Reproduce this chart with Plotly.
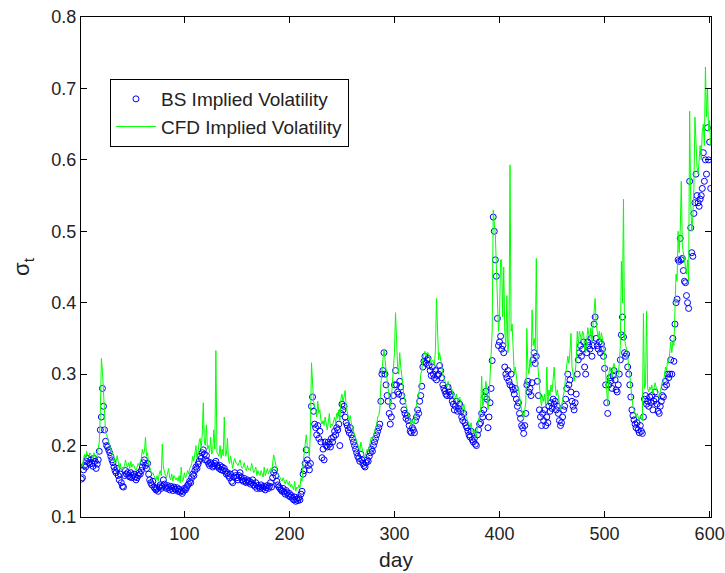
import plotly.graph_objects as go

days = list(range(2, 602))

bs_vol = [
    0.153, 0.155, 0.166, 0.172, 0.170, 0.178, 0.182, 0.176, 0.174, 0.180,
    0.175, 0.171, 0.182, 0.178, 0.168, 0.174, 0.180, 0.192, 0.222, 0.240,
    0.280, 0.255, 0.222, 0.206, 0.200, 0.198, 0.194, 0.190, 0.185, 0.180,
    0.176, 0.170, 0.165, 0.162, 0.168, 0.158, 0.152, 0.160, 0.148, 0.143,
    0.142, 0.158, 0.165, 0.160, 0.162, 0.158, 0.156, 0.162, 0.155, 0.158,
    0.160, 0.156, 0.152, 0.155, 0.158, 0.162, 0.160, 0.165, 0.170, 0.176,
    0.180, 0.172, 0.168, 0.175, 0.160, 0.152, 0.148, 0.145, 0.150, 0.142,
    0.140, 0.138, 0.140, 0.136, 0.142, 0.145, 0.140, 0.143, 0.152, 0.146,
    0.142, 0.140, 0.144, 0.141, 0.138, 0.143, 0.140, 0.137, 0.142, 0.139,
    0.138, 0.141, 0.136, 0.139, 0.135, 0.137, 0.133, 0.136, 0.140, 0.138,
    0.141, 0.144, 0.146, 0.150, 0.148, 0.155, 0.160, 0.158, 0.165, 0.170,
    0.168, 0.174, 0.178, 0.185, 0.182, 0.190, 0.194, 0.188, 0.180, 0.186,
    0.178, 0.175, 0.172, 0.176, 0.174, 0.170, 0.172, 0.175, 0.178, 0.172,
    0.170, 0.168, 0.172, 0.166, 0.170, 0.165, 0.168, 0.164, 0.160, 0.162,
    0.158, 0.155, 0.160, 0.150, 0.148, 0.156, 0.162, 0.158, 0.155, 0.152,
    0.158, 0.162, 0.156, 0.152, 0.150, 0.154, 0.150, 0.148, 0.152, 0.149,
    0.150, 0.146, 0.148, 0.152, 0.145, 0.143, 0.148, 0.140, 0.144, 0.142,
    0.140, 0.145, 0.142, 0.140, 0.143, 0.138, 0.141, 0.144, 0.140, 0.143,
    0.148, 0.142, 0.155, 0.162, 0.166, 0.158, 0.150, 0.145, 0.142, 0.140,
    0.138, 0.136, 0.140, 0.135, 0.132, 0.137, 0.134, 0.130, 0.133, 0.128,
    0.130, 0.126, 0.124, 0.128, 0.122, 0.125, 0.123, 0.127, 0.124, 0.132,
    0.136, 0.160, 0.165, 0.175, 0.194, 0.180, 0.172, 0.166, 0.175, 0.255,
    0.268, 0.248, 0.230, 0.225, 0.215, 0.228, 0.210, 0.220, 0.205, 0.183,
    0.195, 0.180, 0.205, 0.200, 0.198, 0.205, 0.202, 0.198, 0.210, 0.205,
    0.212, 0.220, 0.215, 0.225, 0.222, 0.230, 0.200, 0.245, 0.258, 0.250,
    0.255, 0.240, 0.232, 0.228, 0.222, 0.218, 0.225, 0.215, 0.210, 0.205,
    0.200, 0.195, 0.190, 0.185, 0.182, 0.178, 0.188, 0.180, 0.175, 0.172,
    0.170, 0.176, 0.180, 0.178, 0.185, 0.190, 0.195, 0.192, 0.200, 0.205,
    0.210, 0.215, 0.220, 0.225, 0.230, 0.262, 0.300, 0.305, 0.330, 0.300,
    0.285, 0.270, 0.262, 0.245, 0.230, 0.240, 0.255, 0.270, 0.285, 0.305,
    0.285, 0.275, 0.272, 0.290, 0.282, 0.270, 0.262, 0.250, 0.245, 0.238,
    0.242, 0.235, 0.228, 0.220, 0.218, 0.225, 0.222, 0.218, 0.235, 0.240,
    0.250, 0.245, 0.262, 0.270, 0.283, 0.310, 0.318, 0.325, 0.315, 0.320,
    0.322, 0.312, 0.305, 0.298, 0.310, 0.300, 0.295, 0.305, 0.292, 0.298,
    0.300, 0.312, 0.305, 0.295, 0.285, 0.280, 0.276, 0.272, 0.270, 0.282,
    0.275, 0.270, 0.272, 0.262, 0.258, 0.250, 0.255, 0.262, 0.248, 0.252,
    0.258, 0.248, 0.240, 0.235, 0.245, 0.232, 0.228, 0.225, 0.220, 0.215,
    0.212, 0.220, 0.208, 0.205, 0.210, 0.202, 0.200, 0.215, 0.222, 0.230,
    0.232, 0.245, 0.240, 0.250, 0.268, 0.276, 0.265, 0.225, 0.240, 0.260,
    0.280, 0.319, 0.520, 0.500, 0.460, 0.437, 0.378, 0.340, 0.345, 0.353,
    0.335, 0.340, 0.330, 0.310, 0.300, 0.295, 0.305, 0.290, 0.285, 0.300,
    0.282, 0.278, 0.272, 0.280, 0.265, 0.255, 0.260, 0.245, 0.238, 0.228,
    0.225, 0.217, 0.228, 0.245, 0.285, 0.290, 0.275, 0.280, 0.270, 0.288,
    0.320, 0.330, 0.315, 0.325, 0.290, 0.270, 0.250, 0.240, 0.228, 0.245,
    0.235, 0.250, 0.228, 0.240, 0.232, 0.255, 0.248, 0.260, 0.252, 0.265,
    0.258, 0.262, 0.250, 0.255, 0.245, 0.235, 0.228, 0.232, 0.240, 0.250,
    0.255, 0.265, 0.280, 0.300, 0.285, 0.292, 0.275, 0.262, 0.255, 0.250,
    0.260, 0.272, 0.300, 0.320, 0.330, 0.340, 0.325, 0.335, 0.345, 0.310,
    0.300, 0.330, 0.345, 0.340, 0.335, 0.350, 0.325, 0.340, 0.370, 0.380,
    0.350, 0.340, 0.335, 0.345, 0.330, 0.342, 0.335, 0.325, 0.308, 0.285,
    0.260, 0.245, 0.285, 0.295, 0.290, 0.280, 0.298, 0.305, 0.292, 0.278,
    0.275, 0.285, 0.300, 0.320, 0.355, 0.380, 0.352, 0.330, 0.325, 0.328,
    0.310, 0.300, 0.285, 0.268, 0.250, 0.242, 0.236, 0.230, 0.225, 0.232,
    0.222, 0.218, 0.228, 0.220, 0.217, 0.240, 0.265, 0.270, 0.258, 0.262,
    0.255, 0.268, 0.260, 0.270, 0.250, 0.262, 0.275, 0.265, 0.258, 0.248,
    0.245, 0.255, 0.262, 0.270, 0.268, 0.282, 0.290, 0.285, 0.300, 0.295,
    0.300, 0.320, 0.300, 0.350, 0.318, 0.370, 0.400, 0.405, 0.460, 0.458,
    0.490, 0.460, 0.462, 0.445, 0.430, 0.428, 0.410, 0.400, 0.392, 0.570,
    0.505, 0.470, 0.465, 0.525, 0.540, 0.580, 0.550, 0.540, 0.535, 0.545,
    0.550, 0.560, 0.610, 0.570, 0.600, 0.580, 0.645, 0.600, 0.625, 0.560,
]

cfd_vol = [
    0.170, 0.172, 0.182, 0.188, 0.180, 0.192, 0.186, 0.184, 0.190, 0.186,
    0.185, 0.182, 0.190, 0.184, 0.183, 0.186, 0.195, 0.205, 0.245, 0.322,
    0.305, 0.268, 0.230, 0.218, 0.215, 0.208, 0.205, 0.200, 0.196, 0.192,
    0.188, 0.183, 0.175, 0.178, 0.186, 0.172, 0.168, 0.175, 0.165, 0.170,
    0.168, 0.172, 0.180, 0.172, 0.170, 0.176, 0.168, 0.178, 0.170, 0.174,
    0.172, 0.168, 0.165, 0.170, 0.175, 0.172, 0.178, 0.182, 0.195, 0.188,
    0.192, 0.212, 0.185, 0.190, 0.175, 0.168, 0.165, 0.160, 0.162, 0.158,
    0.155, 0.152, 0.158, 0.150, 0.160, 0.165, 0.158, 0.202, 0.170, 0.162,
    0.158, 0.155, 0.160, 0.168, 0.155, 0.152, 0.160, 0.150, 0.158, 0.154,
    0.152, 0.155, 0.150, 0.158, 0.148, 0.170, 0.150, 0.152, 0.162, 0.155,
    0.158, 0.165, 0.160, 0.168, 0.170, 0.175, 0.185, 0.178, 0.190, 0.200,
    0.182, 0.188, 0.205, 0.210, 0.195, 0.215, 0.260, 0.205, 0.200, 0.229,
    0.195, 0.200, 0.190, 0.212, 0.188, 0.192, 0.222, 0.195, 0.333, 0.190,
    0.188, 0.185, 0.200, 0.182, 0.195, 0.186, 0.240, 0.185, 0.188, 0.210,
    0.180, 0.175, 0.185, 0.172, 0.168, 0.178, 0.182, 0.176, 0.175, 0.172,
    0.175, 0.180, 0.172, 0.168, 0.170, 0.176, 0.168, 0.165, 0.172, 0.166,
    0.168, 0.165, 0.175, 0.168, 0.162, 0.165, 0.170, 0.158, 0.165, 0.160,
    0.158, 0.165, 0.160, 0.156, 0.170, 0.158, 0.162, 0.168, 0.160, 0.165,
    0.168, 0.162, 0.175, 0.187, 0.180, 0.172, 0.165, 0.160, 0.158, 0.155,
    0.152, 0.150, 0.155, 0.148, 0.146, 0.152, 0.148, 0.145, 0.150, 0.142,
    0.146, 0.140, 0.138, 0.150, 0.136, 0.142, 0.140, 0.145, 0.140, 0.155,
    0.150, 0.175, 0.190, 0.208, 0.215, 0.200, 0.195, 0.185, 0.220, 0.316,
    0.287, 0.262, 0.255, 0.250, 0.240, 0.262, 0.245, 0.250, 0.235, 0.230,
    0.235, 0.228, 0.240, 0.230, 0.222, 0.232, 0.245, 0.225, 0.230, 0.228,
    0.235, 0.240, 0.232, 0.245, 0.238, 0.250, 0.235, 0.265, 0.272, 0.262,
    0.268, 0.277, 0.255, 0.245, 0.240, 0.235, 0.242, 0.230, 0.225, 0.222,
    0.215, 0.210, 0.205, 0.200, 0.198, 0.192, 0.205, 0.195, 0.190, 0.185,
    0.185, 0.190, 0.195, 0.192, 0.200, 0.205, 0.212, 0.208, 0.215, 0.222,
    0.225, 0.228, 0.240, 0.242, 0.250, 0.285, 0.310, 0.320, 0.335, 0.318,
    0.305, 0.292, 0.280, 0.268, 0.255, 0.265, 0.290, 0.300, 0.330, 0.386,
    0.350, 0.310, 0.300, 0.330, 0.310, 0.300, 0.285, 0.270, 0.262, 0.255,
    0.250, 0.245, 0.238, 0.232, 0.228, 0.235, 0.232, 0.230, 0.250, 0.258,
    0.262, 0.270, 0.280, 0.300, 0.305, 0.322, 0.328, 0.332, 0.325, 0.330,
    0.330, 0.325, 0.320, 0.315, 0.320, 0.318, 0.312, 0.335, 0.406, 0.374,
    0.320, 0.330, 0.318, 0.310, 0.300, 0.295, 0.290, 0.285, 0.282, 0.290,
    0.285, 0.280, 0.282, 0.275, 0.270, 0.265, 0.268, 0.272, 0.262, 0.265,
    0.268, 0.262, 0.255, 0.250, 0.258, 0.245, 0.240, 0.238, 0.232, 0.228,
    0.225, 0.232, 0.220, 0.218, 0.222, 0.215, 0.212, 0.228, 0.235, 0.245,
    0.250, 0.297, 0.255, 0.262, 0.280, 0.290, 0.278, 0.250, 0.265, 0.300,
    0.320, 0.360, 0.530, 0.510, 0.495, 0.450, 0.400, 0.360, 0.380, 0.460,
    0.460, 0.380, 0.450, 0.360, 0.340, 0.410, 0.330, 0.350, 0.593, 0.360,
    0.370, 0.320, 0.300, 0.310, 0.295, 0.285, 0.280, 0.268, 0.258, 0.250,
    0.245, 0.238, 0.250, 0.260, 0.364, 0.310, 0.300, 0.320, 0.310, 0.390,
    0.340, 0.350, 0.335, 0.462, 0.320, 0.300, 0.275, 0.265, 0.255, 0.270,
    0.262, 0.272, 0.255, 0.310, 0.260, 0.278, 0.270, 0.285, 0.275, 0.290,
    0.310, 0.285, 0.270, 0.278, 0.268, 0.260, 0.250, 0.255, 0.262, 0.270,
    0.280, 0.300, 0.310, 0.325, 0.315, 0.330, 0.357, 0.310, 0.300, 0.290,
    0.300, 0.320, 0.360, 0.340, 0.360, 0.355, 0.345, 0.360, 0.358, 0.335,
    0.330, 0.350, 0.365, 0.355, 0.350, 0.365, 0.345, 0.370, 0.385, 0.406,
    0.370, 0.355, 0.350, 0.360, 0.345, 0.358, 0.350, 0.340, 0.325, 0.300,
    0.280, 0.255, 0.300, 0.310, 0.305, 0.295, 0.310, 0.315, 0.305, 0.295,
    0.295, 0.300, 0.315, 0.340, 0.458, 0.400, 0.545, 0.350, 0.340, 0.335,
    0.325, 0.315, 0.300, 0.282, 0.265, 0.255, 0.250, 0.245, 0.240, 0.245,
    0.240, 0.235, 0.242, 0.238, 0.235, 0.385, 0.280, 0.285, 0.388, 0.280,
    0.275, 0.282, 0.278, 0.285, 0.272, 0.280, 0.288, 0.282, 0.275, 0.270,
    0.268, 0.275, 0.285, 0.290, 0.288, 0.300, 0.310, 0.305, 0.320, 0.315,
    0.330, 0.345, 0.330, 0.345, 0.340, 0.400, 0.440, 0.430, 0.500, 0.470,
    0.500, 0.570, 0.480, 0.470, 0.455, 0.450, 0.440, 0.460, 0.430, 0.668,
    0.540, 0.500, 0.520, 0.560, 0.660, 0.610, 0.590, 0.580, 0.600, 0.620,
    0.600, 0.640, 0.650, 0.620, 0.730, 0.660, 0.700, 0.640, 0.655, 0.620,
]

x_ticks = [100, 200, 300, 400, 500, 600]
y_ticks = [0.1, 0.2, 0.3, 0.4, 0.5, 0.6, 0.7, 0.8]

FONT = "Liberation Sans, Arial, Helvetica, sans-serif"

fig = go.Figure()
fig.add_trace(go.Scatter(
    x=days, y=bs_vol, mode="markers", name="BS Implied Volatility",
    marker=dict(symbol="circle-open", size=6, color="#0000ff", line=dict(width=1, color="#0000ff")),
))
fig.add_trace(go.Scatter(
    x=days, y=cfd_vol, mode="lines", name="CFD Implied Volatility",
    line=dict(color="#00ff00", width=1),
))

axis_common = dict(
    showline=True, linecolor="black", linewidth=1, mirror="ticks",
    ticks="inside", ticklen=6, tickcolor="black", showgrid=False, zeroline=False,
    tickfont=dict(family=FONT, size=18, color="#222"), automargin=False,
)

fig.update_layout(
    width=725, height=573,
    margin=dict(l=81, r=14, t=17, b=56),
    paper_bgcolor="white", plot_bgcolor="white",
    font=dict(family=FONT, size=18, color="#222"),
    xaxis=dict(range=[1.6, 601.3], tickvals=x_ticks,
               title=dict(text="day", font=dict(family=FONT, size=21, color="#222"), standoff=9),
               **axis_common),
    yaxis=dict(range=[0.1, 0.8], tickvals=y_ticks, tickformat=".1f",
               title=dict(text="σ<sub>t</sub>", font=dict(family=FONT, size=22, color="#222"), standoff=15),
               **axis_common),
    legend=dict(x=0.046, y=0.876, xanchor="left", yanchor="top",
                bgcolor="white", bordercolor="black", borderwidth=1,
                font=dict(family=FONT, size=19, color="#222"),
                tracegroupgap=0, itemwidth=40),
    showlegend=True,
)

fig.write_html("out.html")
